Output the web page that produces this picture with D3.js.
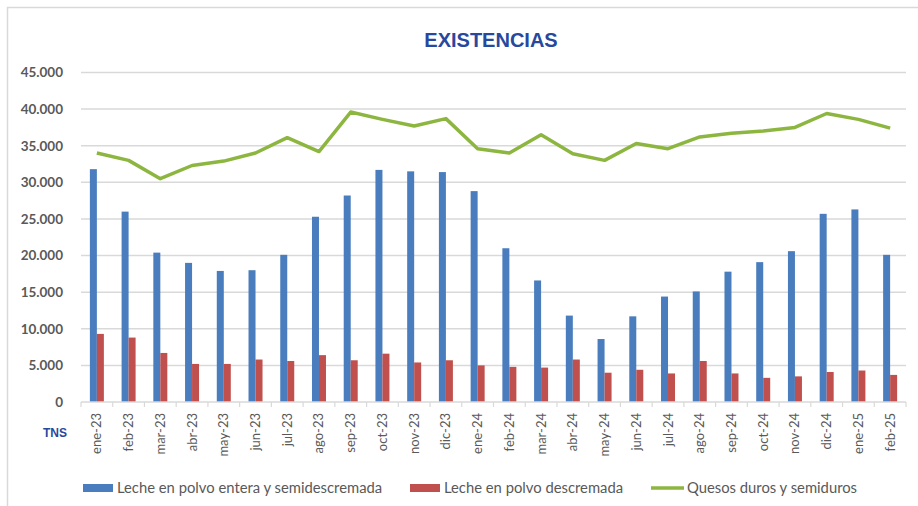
<!DOCTYPE html>
<html>
<head>
<meta charset="utf-8">
<script src="https://cdn.jsdelivr.net/npm/d3@7/dist/d3.min.js"></script>
<style>
  html, body { margin: 0; padding: 0; background: #fff; }
  svg { display: block; }
</style>
</head>
<body>
<svg id="chart" width="918" height="506"></svg>
<script>
const categories = ["ene-23","feb-23","mar-23","abr-23","may-23","jun-23","jul-23","ago-23","sep-23","oct-23","nov-23","dic-23",
  "ene-24","feb-24","mar-24","abr-24","may-24","jun-24","jul-24","ago-24","sep-24","oct-24","nov-24","dic-24","ene-25","feb-25"];
const lecheEntera = [31800,26000,20400,19000,17900,18000,20100,25300,28200,31700,31500,31400,
  28800,21000,16600,11800,8600,11700,14400,15100,17800,19100,20600,25700,26300,20100];
const lecheDescremada = [9300,8800,6700,5200,5200,5800,5600,6400,5700,6600,5400,5700,
  5000,4800,4700,5800,4000,4400,3900,5600,3900,3300,3500,4100,4300,3700];
const quesos = [34000,33000,30500,32300,32900,34000,36100,34200,39600,38600,37700,38700,
  34600,34000,36500,33900,33000,35300,34600,36200,36700,37000,37500,39400,38600,37400];
const yTicks = [0,5000,10000,15000,20000,25000,30000,35000,40000,45000];
const seriesNames = ["Leche en polvo entera y semidescremada","Leche en polvo descremada","Quesos duros y semiduros"];
const title = "EXISTENCIAS";
const unitLabel = "TNS";

const colors = ["#4A7DBD", "#C0504D", "#8DB640"];
const svg = d3.select("#chart");

// frame
svg.append("rect").attr("x", 7.5).attr("y", 7.5).attr("width", 930).attr("height", 520)
  .attr("fill", "#fff").attr("stroke", "#d9d9d9").attr("stroke-width", 1.5);

const pLeft = 81, pRight = 906, pTop = 72.5, pBottom = 402;
const x = d3.scaleBand().domain(categories).range([pLeft, pRight]).padding(0);
const y = d3.scaleLinear().domain([0, 45000]).range([pBottom, pTop]);
const fmt = v => d3.format(",")(v).replace(/,/g, ".");

// title
svg.append("text").attr("x", 491).attr("y", 47).attr("text-anchor", "middle")
  .attr("font-family", "'Liberation Sans', Arial, sans-serif").attr("font-weight", "bold")
  .attr("font-size", 20).attr("fill", "#27489D").text(title);

// gridlines
svg.append("g").selectAll("line").data(yTicks.filter(d => d > 0)).join("line")
  .attr("x1", pLeft).attr("x2", pRight).attr("y1", d => y(d)).attr("y2", d => y(d))
  .attr("stroke", "#d9d9d9").attr("stroke-width", 1.5);

// y axis labels
const yAxis = d3.axisLeft(y).tickValues(yTicks).tickFormat(fmt).tickSize(0).tickPadding(0);
const gy = svg.append("g").attr("transform", `translate(63,0)`).call(yAxis);
gy.select(".domain").remove();
gy.selectAll("text").attr("font-family", "Lato, 'Open Sans', sans-serif").attr("font-weight", "bold")
  .attr("font-size", 13.5).attr("fill", "#595959");

// bars
const bw = 7;
const g = svg.append("g");
g.selectAll("rect.b1").data(lecheEntera).join("rect").attr("class", "b1")
  .attr("x", (d, i) => x(categories[i]) + x.bandwidth() / 2 - bw)
  .attr("width", bw).attr("y", d => y(d)).attr("height", d => y(0) - y(d)).attr("fill", colors[0]);
g.selectAll("rect.b2").data(lecheDescremada).join("rect").attr("class", "b2")
  .attr("x", (d, i) => x(categories[i]) + x.bandwidth() / 2)
  .attr("width", bw).attr("y", d => y(d)).attr("height", d => y(0) - y(d)).attr("fill", colors[1]);

// x axis
const xAxis = d3.axisBottom(x).tickSize(0).tickPadding(0).tickFormat(() => "");
const gx = svg.append("g").attr("transform", `translate(0,${pBottom})`).call(xAxis);
gx.select(".domain").attr("stroke", "#d9d9d9").attr("stroke-width", 1.5).attr("d", `M${pLeft},0H${pRight}`);
gx.selectAll(".tick").remove();
svg.append("g").selectAll("line").data(categories.concat(["_end"])).join("line")
  .attr("x1", (d, i) => pLeft + i * x.bandwidth()).attr("x2", (d, i) => pLeft + i * x.bandwidth())
  .attr("y1", pBottom).attr("y2", pBottom + 5).attr("stroke", "#d9d9d9").attr("stroke-width", 1.2);
svg.append("g").selectAll("text").data(categories).join("text")
  .attr("transform", d => `translate(${x(d) + x.bandwidth() / 2 + 4.5},${pBottom + 11}) rotate(-90)`)
  .attr("text-anchor", "end")
  .attr("font-family", "Lato, 'Open Sans', sans-serif").attr("font-size", 13)
  .attr("fill", "#595959").text(d => d);

// line
const line = d3.line().x((d, i) => x(categories[i]) + x.bandwidth() / 2).y(d => y(d));
svg.append("path").datum(quesos).attr("d", line).attr("fill", "none")
  .attr("stroke", colors[2]).attr("stroke-width", 3.5).attr("stroke-linejoin", "round");

// unit label
svg.append("text").attr("x", 55).attr("y", 437).attr("text-anchor", "middle")
  .attr("font-family", "'Liberation Sans', Arial, sans-serif").attr("font-weight", "bold")
  .attr("font-size", 12).attr("fill", "#27489D").text(unitLabel);

// legend
const legendItems = [
  { name: seriesNames[0], color: colors[0], type: "rect", x: 83 },
  { name: seriesNames[1], color: colors[1], type: "rect", x: 410 },
  { name: seriesNames[2], color: colors[2], type: "line", x: 651 }
];
const lg = svg.append("g");
legendItems.forEach(it => {
  if (it.type === "rect") {
    lg.append("rect").attr("x", it.x).attr("y", 484).attr("width", 30).attr("height", 8).attr("fill", it.color);
  } else {
    lg.append("line").attr("x1", it.x).attr("x2", it.x + 33).attr("y1", 488).attr("y2", 488)
      .attr("stroke", it.color).attr("stroke-width", 3.5);
  }
  lg.append("text").attr("x", it.x + (it.type === "rect" ? 34 : 36)).attr("y", 493)
    .attr("font-family", "Lato, 'Open Sans', sans-serif").attr("font-size", 14.8)
    .attr("fill", "#595959").text(it.name);
});
</script>
</body>
</html>
